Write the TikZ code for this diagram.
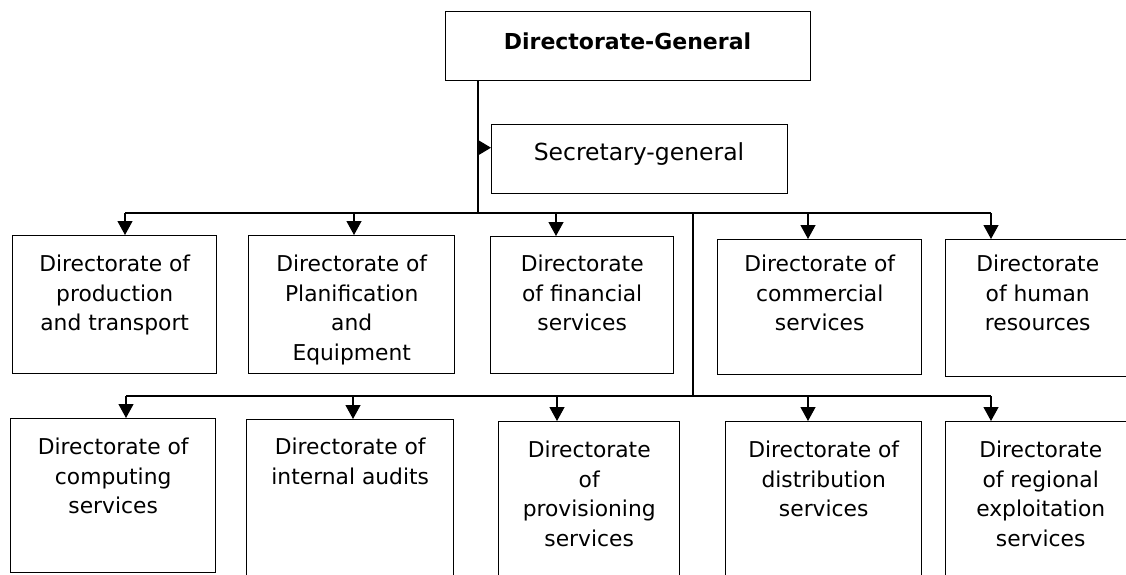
\documentclass[tikz,border=0pt]{standalone}
\usepackage{fontspec}
\setmainfont{DejaVu Sans}
\usetikzlibrary{arrows.meta}
\begin{document}
\begin{tikzpicture}[x=1pt,y=-1pt,
  box/.style={draw, line width=1.4pt, inner sep=0pt, anchor=north west},
  lbl/.style={align=center, inner sep=0pt, anchor=north, font=\fontsize{21.8}{29.5}\selectfont},
  conn/.style={line width=1.2pt},
  arr/.style={line width=1.2pt, -{Triangle[length=14pt,width=15pt]}},
  sarr/.style={line width=1.2pt, -{Triangle[length=12pt,width=14pt]}}]
\useasboundingbox (0,0) rectangle (1126,574);
\clip (0,0) rectangle (1126,574);

% top boxes
\node[box, minimum width=365pt, minimum height=69pt] (dg) at (445,11) {};
\node[inner sep=0pt, font=\fontsize{22}{26}\selectfont\bfseries] (dgt) at (627.5,41) {Directorate-General};
\node[box, minimum width=296pt, minimum height=69pt] (sg) at (491,124) {};
\node[inner sep=0pt, anchor=base, font=\fontsize{23.5}{27}\selectfont] (sgt) at (639,160) {Secretary-general};

% row 1 boxes
\node[box, minimum width=204pt, minimum height=138pt] (p1) at (12,235) {};
\node[box, minimum width=206pt, minimum height=138pt] (p2) at (248,235) {};
\node[box, minimum width=183pt, minimum height=137pt] (p3) at (490,236) {};
\node[box, minimum width=204pt, minimum height=135pt] (p4) at (717,239) {};
\node[box, minimum width=190pt, minimum height=137pt] (p5) at (945,239) {};

% row 2 boxes
\node[box, minimum width=205pt, minimum height=154pt] (c1) at (10,418) {};
\node[box, minimum width=207pt, minimum height=170pt] (c2) at (246,419) {};
\node[box, minimum width=181pt, minimum height=170pt] (c3) at (498,421) {};
\node[box, minimum width=196pt, minimum height=170pt] (c4) at (725,421) {};
\node[box, minimum width=190pt, minimum height=170pt] (c5) at (945,421) {};

% text rows
\coordinate (r1) at (0,255);
\coordinate (r2) at (0,438);
\node[lbl] (p1t) at (p1.north |- r1) {Directorate of\\production\\and transport};
\node[lbl] (p2t) at (p2.north |- r1) {Directorate of\\Planification\\and\\Equipment};
\node[lbl] (p3t) at (p3.north |- r1) {Directorate\\of financial\\services};
\node[lbl] (p4t) at (p4.north |- r1) {Directorate of\\commercial\\services};
\node[lbl] (p5t) at ([xshift=-3pt]p5.north |- r1) {Directorate\\of human\\resources};

\node[lbl] (c1t) at (c1.north |- r2) {Directorate of\\computing\\services};
\node[lbl] (c2t) at (c2.north |- r2) {Directorate of\\internal audits};
\node[lbl] (c3t) at ([yshift=-3pt]c3.north |- r2) {Directorate\\of\\provisioning\\services};
\node[lbl] (c4t) at ([yshift=-3pt]c4.north |- r2) {Directorate of\\distribution\\services};
\node[lbl] (c5t) at ([yshift=-3pt]c5.north |- r2) {Directorate\\of regional\\exploitation\\services};

% trunk
\coordinate (j1) at (478,213);
\draw[conn] (dg.south -| j1) -- (j1);
\draw[sarr] ([yshift=11.5pt]sg.west -| j1) -- ([yshift=11.5pt]sg.west);

% row 1 bar and arrows
\coordinate (a1) at (125,213);
\coordinate (a2) at (354,213);
\coordinate (a3) at (556,213);
\coordinate (a4) at (808,213);
\coordinate (a5) at (991,213);
\draw[conn] (a1) -- (a5);
\draw[arr] (a1) -- (a1 |- p1.north);
\draw[arr] (a2) -- (a2 |- p2.north);
\draw[arr] (a3) -- (a3 |- p3.north);
\draw[arr] (a4) -- (a4 |- p4.north);
\draw[arr] (a5) -- (a5 |- p5.north);

% link to row 2
\coordinate (m1) at (693,213);
\coordinate (m2) at (693,396);
\draw[conn] (m1) -- (m2);

% row 2 bar and arrows
\coordinate (b1) at (126,396);
\coordinate (b2) at (353,396);
\coordinate (b3) at (557,396);
\coordinate (b4) at (808,396);
\coordinate (b5) at (991,396);
\draw[conn] (b1) -- (b5);
\draw[arr] (b1) -- (b1 |- c1.north);
\draw[arr] (b2) -- (b2 |- c2.north);
\draw[arr] (b3) -- (b3 |- c3.north);
\draw[arr] (b4) -- (b4 |- c4.north);
\draw[arr] (b5) -- (b5 |- c5.north);
\end{tikzpicture}
\end{document}
